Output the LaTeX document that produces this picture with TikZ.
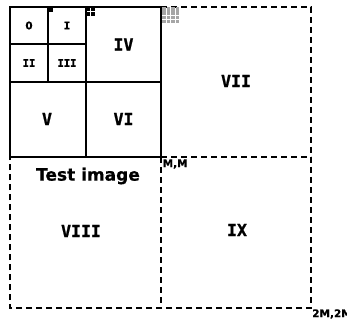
\documentclass[tikz,border=0pt]{standalone}
\usepackage{fontspec}
\setmainfont{DejaVu Sans}
\newfontfamily\monofam[FakeBold=1.2]{DejaVu Sans Mono Bold}
\newfontfamily\sansbold[FakeBold=0.6]{DejaVu Sans Bold}
\begin{document}
\begin{tikzpicture}[x=1pt,y=-1pt,
  solidline/.style={line width=1.3pt},
  dashline/.style={line width=1.2pt,dash pattern=on 6pt off 4pt},
  numeral/.style={font=\monofam\fontsize{#1}{#1}\selectfont,inner sep=0pt},
  corner/.style={font=\sansbold\fontsize{10.5}{10.5}\selectfont,inner sep=0pt,anchor=west},
  pixel/.style={fill=black},
  graypixel/.style={fill=gray!70}]
\useasboundingbox (0,0) rectangle (347,320);
% outer dashed quadrants
\draw[dashline] (161,7) -- (311,7) -- (311,308) -- (10,308) -- (10,157);
\draw[dashline] (161,157) -- (311,157);
\draw[dashline] (161,157) -- (161,308);
% solid quadrant with its subdivisions
\draw[solidline] (10,7) rectangle (161,157);
\draw[solidline] (10,82) -- (161,82);
\draw[solidline] (86,7) -- (86,157);
\draw[solidline] (10,44) -- (86,44);
\draw[solidline] (48,7) -- (48,82);
% one pixel, 2x2 pixels, 4x4 pixels
\fill[pixel] (48,7) rectangle (53,12);
\foreach \i in {0,1} \foreach \j in {0,1}
  \fill[pixel] (86+4.6*\i,7+4.6*\j) rectangle ++(4,4);
\foreach \i in {0,...,3} \foreach \j in {0,...,3}
  \fill[graypixel] (162+4.5*\i,7+4.3*\j) rectangle ++(3.8,3.6);
% labels
\node[font=\sansbold\fontsize{10.5}{10.5}\selectfont,inner sep=0pt] (n0) at (29,25.5) {0};
\node[numeral=10.5] (n1) at (67,25.5) {I};
\node[numeral=10.5] (n2) at (29,63) {II};
\node[numeral=10.5] (n3) at (67,63) {III};
\node[numeral=16.5] (n4) at (123.5,44.5) {IV};
\node[numeral=16.5] (n5) at (47,119) {V};
\node[numeral=16.5] (n6) at (123.5,119) {VI};
\node[numeral=16.5] (n7) at (236,81) {VII};
\node[numeral=16.5] (n8) at (81,231) {VIII};
\node[numeral=16.5] (n9) at (237,230) {IX};
\node[font=\sansbold\fontsize{17}{17}\selectfont,inner sep=0pt] (title) at (88,176) {Test image};
\node[corner] (mm) at (162.5,164) {M,M};
\node[corner] (mm2) at (312,314) {2M,2M};
\end{tikzpicture}
\end{document}
